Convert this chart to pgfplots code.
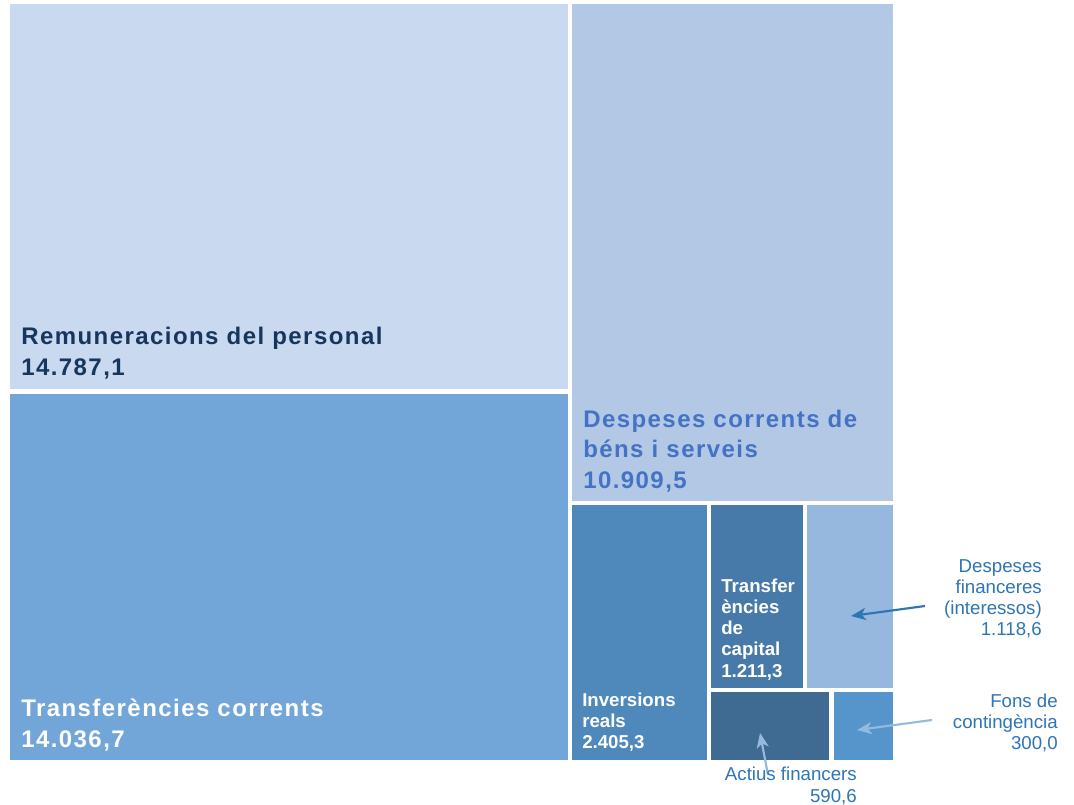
\documentclass[border=0pt]{standalone}
\usepackage{pgfplots}
\pgfplotsset{compat=1.18}
\usetikzlibrary{arrows.meta}
\usepackage{fontspec}
\setmainfont{Liberation Sans}
\newfontfamily\widefont[LetterSpace=6]{Liberation Sans}

\definecolor{cRem}{RGB}{201,217,239}
\definecolor{cTrc}{RGB}{114,166,216}
\definecolor{cDes}{RGB}{179,200,228}
\definecolor{cInv}{RGB}{79,137,187}
\definecolor{cTrk}{RGB}{71,122,168}
\definecolor{cFin}{RGB}{150,183,222}
\definecolor{cAct}{RGB}{63,106,145}
\definecolor{cFon}{RGB}{86,148,204}
\definecolor{tNavy}{RGB}{23,54,93}
\definecolor{tBlue}{RGB}{68,114,196}
\definecolor{tOut}{RGB}{46,117,182}
\definecolor{aLight}{RGB}{150,186,222}

\newcommand{\fbig}{\widefont\fontsize{18}{18}\selectfont\bfseries}
\newcommand{\fsmall}{\fontsize{14}{14}\selectfont\bfseries}
\newcommand{\fout}{\fontsize{14}{14}\selectfont}
\tikzset{arr/.style={-{Stealth[length=11pt,width=9pt,inset=3pt]}, line width=1.6pt}}

\begin{document}
\begin{tikzpicture}
\begin{axis}[width=805.5pt, height=603.75pt, scale only axis,
  xmin=0, xmax=1074, ymin=0, ymax=805, y dir=reverse,
  hide axis, clip=false, no markers]
% background (fixes the picture size)
\addplot[fill=white, draw=none] coordinates {(0,0)(1074,0)(1074,805)(0,805)} -- cycle;
% treemap tiles, pixel coordinates x0,y0 -> x1,y1
\addplot[fill=cRem, draw=none] coordinates {(10,4)(568,4)(568,389)(10,389)} -- cycle;
\addplot[fill=cTrc, draw=none] coordinates {(10,394)(568,394)(568,760)(10,760)} -- cycle;
\addplot[fill=cDes, draw=none] coordinates {(572,4)(893,4)(893,501)(572,501)} -- cycle;
\addplot[fill=cInv, draw=none] coordinates {(572,505)(707,505)(707,760)(572,760)} -- cycle;
\addplot[fill=cTrk, draw=none] coordinates {(711,505)(803,505)(803,688)(711,688)} -- cycle;
\addplot[fill=cFin, draw=none] coordinates {(807,505)(893,505)(893,688)(807,688)} -- cycle;
\addplot[fill=cAct, draw=none] coordinates {(711,692)(829,692)(829,760)(711,760)} -- cycle;
\addplot[fill=cFon, draw=none] coordinates {(834,692)(893,692)(893,760)(834,760)} -- cycle;

% labels inside
\node[anchor=base west, inner sep=0, text=tNavy, font=\fbig] at (axis cs:21,345) {Remuneracions del personal};
\node[anchor=base west, inner sep=0, text=tNavy, font=\fbig] at (axis cs:21,376) {14.787,1};
\node[anchor=base west, inner sep=0, text=white, font=\fbig] at (axis cs:21,716) {Transferències corrents};
\node[anchor=base west, inner sep=0, text=white, font=\fbig] at (axis cs:21,747) {14.036,7};
\node[anchor=base west, inner sep=0, text=tBlue, font=\fbig] at (axis cs:583,427) {Despeses corrents de};
\node[anchor=base west, inner sep=0, text=tBlue, font=\fbig] at (axis cs:583,457) {béns i serveis};
\node[anchor=base west, inner sep=0, text=tBlue, font=\fbig] at (axis cs:583,488) {10.909,5};
\node[anchor=base west, inner sep=0, text=white, font=\fsmall] at (axis cs:582,706) {Inversions};
\node[anchor=base west, inner sep=0, text=white, font=\fsmall] at (axis cs:582,727) {reals};
\node[anchor=base west, inner sep=0, text=white, font=\fsmall] at (axis cs:582,748) {2.405,3};
\node[anchor=base west, inner sep=0, text=white, font=\fsmall] at (axis cs:721,592) {Transfer};
\node[anchor=base west, inner sep=0, text=white, font=\fsmall] at (axis cs:721,613) {ències};
\node[anchor=base west, inner sep=0, text=white, font=\fsmall] at (axis cs:721,634) {de};
\node[anchor=base west, inner sep=0, text=white, font=\fsmall] at (axis cs:721,655) {capital};
\node[anchor=base west, inner sep=0, text=white, font=\fsmall] at (axis cs:721,677) {1.211,3};

% labels outside, with arrows
\addplot[arr, color=tOut] coordinates {(925,606)(851,616)};
\addplot[arr, color=aLight] coordinates {(932,720)(857,730)};
\addplot[arr, color=aLight] coordinates {(768,775)(760,733)};

\node[anchor=base east, inner sep=0, text=tOut, font=\fout] at (axis cs:1042,572) {Despeses};
\node[anchor=base east, inner sep=0, text=tOut, font=\fout] at (axis cs:1042,593) {financeres};
\node[anchor=base east, inner sep=0, text=tOut, font=\fout] at (axis cs:1042,614) {(interessos)};
\node[anchor=base east, inner sep=0, text=tOut, font=\fout] at (axis cs:1042,635) {1.118,6};
\node[anchor=base east, inner sep=0, text=tOut, font=\fout] at (axis cs:1058,707) {Fons de};
\node[anchor=base east, inner sep=0, text=tOut, font=\fout] at (axis cs:1058,728) {contingència};
\node[anchor=base east, inner sep=0, text=tOut, font=\fout] at (axis cs:1058,749) {300,0};
\node[anchor=base east, inner sep=0, text=tOut, font=\fout] at (axis cs:857,780) {Actius financers};
\node[anchor=base east, inner sep=0, text=tOut, font=\fout] at (axis cs:857,802) {590,6};
\end{axis}
\end{tikzpicture}
\end{document}
